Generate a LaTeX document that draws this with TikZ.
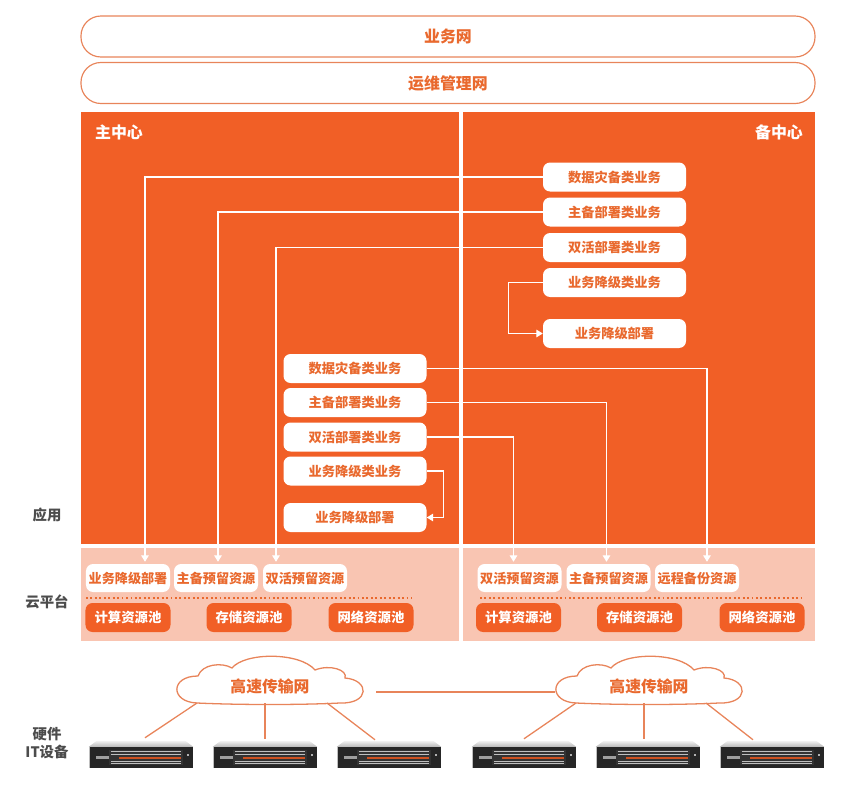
\documentclass[tikz,border=0pt]{standalone}
\usepackage{fontspec}
\setmainfont{Noto Sans CJK SC}
\usetikzlibrary{calc, arrows.meta, positioning}
\definecolor{mainOrange}{HTML}{F15F26}
\definecolor{softPink}{HTML}{F9C5B2}
\definecolor{lineOrange}{HTML}{E8845A}
\definecolor{textOrange}{HTML}{E9692E}
\definecolor{labelGray}{gray}{0.3}
\definecolor{serverBody}{HTML}{262626}

\begin{document}
\begin{tikzpicture}[x=0.03cm, y=-0.03cm, >={Triangle[length=5.5pt,width=6.5pt]},
    banner/.style={draw=lineOrange, line width=1pt, rounded corners=17pt, minimum width=22.02cm, minimum height=1.23cm, inner sep=0pt, text=textOrange, font=\bfseries\fontsize{13.6}{15}\selectfont},
    appbox/.style={fill=white, rounded corners=6pt, minimum width=4.29cm, minimum height=0.87cm, inner sep=0pt, text=textOrange, font=\bfseries\fontsize{11.3}{13}\selectfont},
    resbox/.style={appbox, minimum width=2.52cm, minimum height=0.84cm, font=\bfseries\fontsize{11.2}{13}\selectfont},
    poolbox/.style={fill=mainOrange, rounded corners=6pt, minimum width=2.55cm, minimum height=0.87cm, inner sep=0pt, text=white, font=\bfseries\fontsize{11.4}{13}\selectfont},
    title/.style={text=white, font=\bfseries\fontsize{13.6}{15}\selectfont},
    sidelabel/.style={text=labelGray, align=center, font=\bfseries\fontsize{12.3}{15}\selectfont},
    flow/.style={white, line width=0.9pt, ->},
    dotline/.style={textOrange, line width=1.2pt, dash pattern=on 1.6pt off 2.2pt},
    netline/.style={lineOrange, line width=1.1pt},
    server/.style={fill=serverBody, minimum width=3.12cm, minimum height=0.63cm, inner sep=0pt}]
    \useasboundingbox (0,0) rectangle (865,812);

    % networks on top
    \node[banner] (bizNet) at (448,36.5) {业务网};
    \node[banner] (opsNet) at (448,83) {运维管理网};

    % centers
    \fill[mainOrange] (81,112) rectangle (459,544);
    \fill[mainOrange] (463,112) rectangle (815,544);
    \fill[softPink] (81,548) rectangle (459,641);
    \fill[softPink] (463,548) rectangle (815,641);
    \node[title] (mainTitle) at (119,132) {主中心};
    \node[title] (backTitle) at (779,132) {备中心};

    \node[sidelabel] (lblApp) at (47,515) {应用};
    \node[sidelabel] (lblCloud) at (47,602) {云平台};
    \node[sidelabel] (lblHw) at (47,743) {硬件\\IT设备};

    % applications, backup center
    \node[appbox] (rb1) at (614.5,177) {数据灾备类业务};
    \node[appbox] (rb2) at (614.5,212) {主备部署类业务};
    \node[appbox] (rb3) at (614.5,247.5) {双活部署类业务};
    \node[appbox] (rb4) at (614.5,282.5) {业务降级类业务};
    \node[appbox] (rb5) at (614.5,333.5) {业务降级部署};

    % applications, main center
    \node[appbox] (mb1) at (355,368.5) {数据灾备类业务};
    \node[appbox] (mb2) at (355,402.5) {主备部署类业务};
    \node[appbox] (mb3) at (355,437) {双活部署类业务};
    \node[appbox] (mb4) at (355,471) {业务降级类业务};
    \node[appbox] (mb5) at (355,517.5) {业务降级部署};

    % cloud platform
    \node[resbox] (mr1) at (128,578) {业务降级部署};
    \node[resbox] (mr2) at (216,578) {主备预留资源};
    \node[resbox] (mr3) at (305,578) {双活预留资源};
    \node[resbox] (br1) at (519.5,578) {双活预留资源};
    \node[resbox] (br2) at (608.5,578) {主备预留资源};
    \node[resbox] (br3) at (697,578) {远程备份资源};
    \draw[dotline] (86,598) -- (412,598);
    \draw[dotline] (480,598) -- (802,598);
    \node[poolbox] (mp1) at (128,617.5) {计算资源池};
    \node[poolbox] (mp2) at (249,617.5) {存储资源池};
    \node[poolbox] (mp3) at (371,617.5) {网络资源池};
    \node[poolbox] (bp1) at (518.5,617.5) {计算资源池};
    \node[poolbox] (bp2) at (639.5,617.5) {存储资源池};
    \node[poolbox] (bp3) at (762,617.5) {网络资源池};

    \draw[flow] (rb1.west) -| ($(mr1.north)+(17,-2)$);
    \draw[flow] (rb2.west) -| ($(mr2.north)+(2,-2)$);
    \draw[flow] (rb3.west) -| ($(mr3.north)+(-29,-2)$);
    \draw[flow] (rb4.west) -- ++(-34,0) |- (rb5.west);
    \draw[flow] (mb1.east) -| ($(br3.north)+(10,-2)$);
    \draw[flow] (mb2.east) -| ($(br2.north)+(-2,-2)$);
    \draw[flow] (mb3.east) -| ($(br1.north)+(-6,-2)$);
    \draw[flow] (mb4.east) -- ++(17,0) |- (mb5.east);

    % transfer networks
    \foreach \c/\cx in {l/270, r/649} {
        \begin{scope}[shift={(\cx,682)}]
            \draw[netline, fill=white] (-73,21)
                .. controls (-100,20) and (-100,-6) .. (-72,-6)
                .. controls (-68,-18) and (-48,-20) .. (-38,-14)
                .. controls (-25,-30) and (30,-30) .. (45,-12)
                .. controls (60,-18) and (78,-12) .. (75,-4)
                .. controls (100,-2) and (100,22) .. (70,21)
                .. controls (30,23) and (-30,23) .. cycle;
            \node[text=textOrange, font=\bfseries\fontsize{13.5}{15}\selectfont] (net\c) at (0,4) {高速传输网};
            \coordinate (\c-a) at (-73,21);
            \coordinate (\c-b) at (-5,21);
            \coordinate (\c-c) at (57,21);
            \coordinate (\c-w) at (-94,10);
            \coordinate (\c-e) at (106,10);
        \end{scope}
    }
    \draw[netline] (l-e) -- (r-w);

    % servers
    \foreach \n/\x in {1/141, 2/265, 3/389, 4/524, 5/648, 6/772} {
        \node[server] (srv\n) at (\x,757.5) {};
        \shade[top color=gray!10, bottom color=gray!55] (srv\n.north west) -- ++(8,-6) -- ($(srv\n.north east)+(-8,-6)$) -- (srv\n.north east) -- cycle;
        \fill[black!80] ($(srv\n.north west)+(20,3)$) rectangle ($(srv\n.south east)+(-10,-3)$);
        \foreach \dy in {-6,-3.5,3.5,6}
            \draw[gray!50, line width=0.3pt] ($(srv\n.west)+(22,\dy)$) -- ($(srv\n.east)+(-12,\dy)$);
        \fill[mainOrange!85!black] ($(srv\n.west)+(30,-1)$) rectangle ($(srv\n.east)+(-12,1)$);
        \fill[gray!75] ($(srv\n.west)+(7,-1.8)$) rectangle ++(13,3.6);
        \fill[gray!60] ($(srv\n.east)+(-6,-4)$) rectangle ++(2,2);
        \draw[gray!50, line width=0.4pt] (srv\n.north west) -- (srv\n.south west);
    }
    \draw[netline] (l-a) -- ($(srv1.north)+(4,-9)$);
    \draw[netline] (l-b) -- ($(srv2.north)+(0,-8)$);
    \draw[netline] (l-c) -- ($(srv3.north)+(-14,-7)$);
    \draw[netline] (r-a) -- ($(srv4.north)+(0,-8)$);
    \draw[netline] (r-b) -- ($(srv5.north)+(-4,-8)$);
    \draw[netline] (r-c) -- ($(srv6.north)+(-19,-7)$);
\end{tikzpicture}
\end{document}
